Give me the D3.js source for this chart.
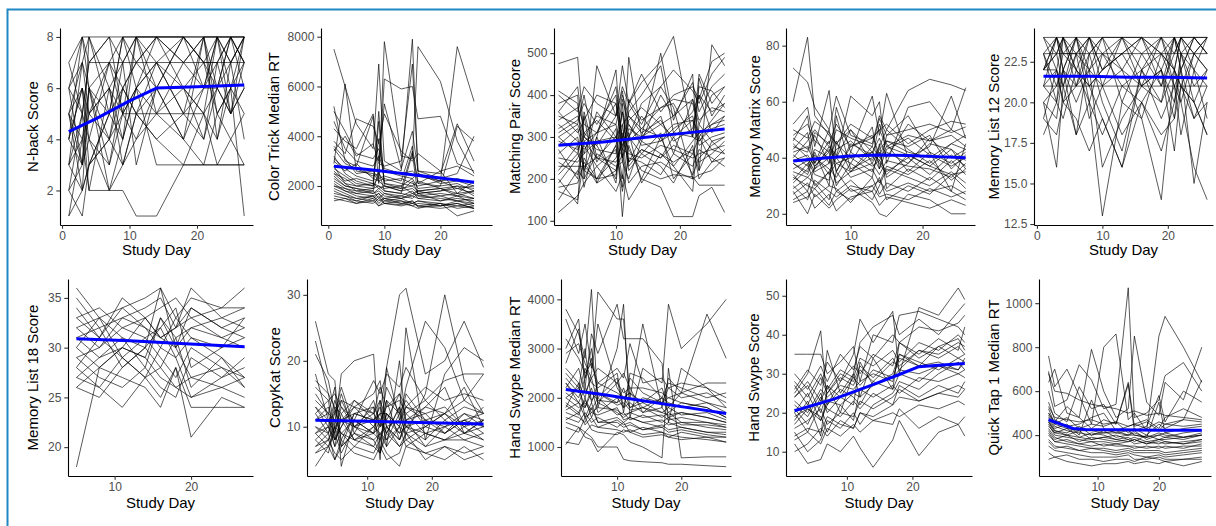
<!DOCTYPE html>
<html>
<head>
<meta charset="utf-8">
<script src="https://cdn.jsdelivr.net/npm/d3@7"></script>
<style>
  body { margin: 0; background: #fff; }
  svg { display: block; font-family: "Liberation Sans", Arial, sans-serif; }
</style>
</head>
<body>
<div class="svg-container"></div>
<script>
// ---- data: one row per participant, one value per study day ----
const nbackDays = [1, 3, 4, 7, 9, 11, 14, 18, 21, 23, 25, 27];
const nbackScores = [
  [4, 8, 8, 8, 8, 8, 8, 8, 8, 8, 8, 8], [7, 5, 7, 7, 7, 7, 7, 7, 7, 7, 7, 7],
  [3, 2, 3, 4, 5, 6, 3, 3, 3, 3, 3, 3], [2, 5, 2, 2, 2, 1, 1, 3, 3, 3, 3, 3],
  [5, 6, 4, 7, 5, 8, 6, 8, 7, 6, 8, 7], [6, 3, 8, 5, 8, 6, 7, 5, 8, 4, 7, 8],
  [1, 4, 6, 3, 6, 5, 7, 6, 5, 8, 6, 5], [3, 7, 5, 6, 4, 8, 5, 7, 6, 8, 5, 8],
  [5, 2, 6, 4, 7, 3, 6, 4, 8, 6, 7, 4], [4, 6, 3, 5, 6, 7, 8, 6, 4, 7, 8, 6],
  [6, 5, 7, 8, 5, 6, 8, 7, 8, 5, 6, 8], [2, 3, 4, 2, 3, 4, 5, 4, 3, 5, 4, 3],
  [5, 7, 6, 5, 8, 7, 6, 8, 7, 7, 8, 7], [3, 4, 5, 6, 5, 5, 5, 5, 6, 6, 5, 6],
  [7, 8, 6, 7, 8, 8, 7, 8, 6, 8, 7, 8], [4, 3, 5, 4, 6, 5, 4, 5, 5, 3, 4, 5],
  [2, 1, 3, 5, 4, 6, 5, 6, 7, 5, 6, 7], [6, 7, 8, 6, 7, 8, 8, 7, 8, 8, 7, 8],
  [5, 4, 2, 6, 3, 5, 6, 4, 6, 7, 5, 6], [3, 5, 4, 3, 5, 4, 6, 6, 5, 6, 8, 7],
  [4, 6, 5, 7, 6, 7, 8, 8, 7, 8, 8, 8], [1, 2, 3, 4, 3, 5, 4, 3, 5, 4, 6, 1],
  [6, 8, 7, 8, 7, 8, 8, 8, 8, 8, 8, 8], [5, 3, 6, 2, 4, 6, 7, 5, 4, 6, 5, 7]
];
const nbackTrend = [[1, 4.3], [5, 4.8], [10, 5.5], [14, 6.0], [20, 6.05], [27, 6.12]];

const colorTrickDays = [1, 3, 5, 8, 9, 10, 13, 15, 16, 20, 23, 26];
const colorTrickRT = [
  [7500, 6000, 4500, 3500, 6900, 3000, 2600, 7900, 2500, 2200, 7600, 5400],
  [5200, 3000, 2800, 4800, 2100, 7800, 3200, 3100, 7600, 6200, 3800, 2500],
  [3200, 2500, 2200, 2000, 2400, 6300, 5900, 6000, 4700, 4800, 2900, 2600],
  [2800, 2100, 1800, 1900, 5000, 2000, 1800, 2200, 1700, 1800, 2000, 1600],
  [2400, 2000, 1900, 1700, 1800, 1600, 1500, 1700, 1600, 1500, 1400, 1300],
  [3600, 3100, 2500, 2600, 2300, 2400, 2200, 3600, 2100, 2000, 4400, 3800],
  [2000, 1800, 1600, 1500, 1700, 1400, 1500, 1300, 1400, 1300, 1200, 1300],
  [4300, 3800, 3500, 4900, 3000, 5300, 2700, 4200, 2600, 2300, 2500, 4000],
  [1900, 1700, 1500, 1600, 1400, 1500, 1300, 1400, 1200, 1300, 1100, 1200],
  [2700, 2400, 2100, 2000, 4600, 2100, 1900, 2000, 1800, 1900, 1700, 1800],
  [3000, 2600, 2900, 2300, 2200, 2000, 1900, 3400, 2100, 2600, 1700, 2200],
  [2200, 1900, 1800, 1700, 1900, 1700, 1600, 1800, 1500, 1600, 1400, 1500],
  [1500, 1400, 1300, 1500, 1200, 1400, 1300, 1200, 1100, 1300, 800, 1000],
  [3400, 4000, 3200, 3700, 2900, 2800, 3000, 6900, 2600, 2500, 4500, 3000],
  [2500, 2300, 2000, 2100, 1900, 2000, 1800, 1900, 1700, 1800, 1900, 1700],
  [5000, 4200, 3300, 3100, 3500, 2700, 2500, 2600, 2400, 2200, 2300, 2100],
  [1700, 1600, 1500, 1400, 1600, 1300, 1400, 1200, 1300, 1200, 1300, 1100],
  [2900, 6100, 2600, 2500, 2200, 2300, 2100, 2000, 2200, 1900, 2000, 1900],
  [2300, 2000, 1900, 1800, 2600, 1800, 1700, 3300, 1600, 1700, 1600, 1500],
  [3800, 3300, 4700, 4400, 3700, 4900, 3400, 3000, 3300, 2600, 2800, 2400],
  [2100, 1800, 1700, 1600, 1700, 1500, 1600, 1500, 1700, 1400, 1500, 1400],
  [4600, 3500, 3000, 2800, 3200, 2600, 2400, 2300, 2500, 2100, 2200, 2000],
  [1800, 1600, 1400, 1300, 1500, 1300, 1200, 1300, 1200, 1100, 1200, 1100],
  [2600, 2200, 2300, 2100, 2000, 1900, 2000, 1700, 1800, 1900, 1600, 1800],
  [1400, 1500, 1300, 1400, 1200, 1300, 1250, 1400, 1150, 1200, 1300, 1100],
  [3100, 2700, 2400, 2200, 3900, 2100, 2000, 2300, 1900, 2000, 2100, 1800],
  [2500, 2100, 2000, 1900, 2000, 1800, 1700, 1600, 1800, 1600, 1700, 1500],
  [1600, 1500, 1400, 1600, 1300, 1500, 1400, 1300, 1400, 1200, 1400, 1200],
  [3500, 2900, 2700, 2400, 2500, 2200, 2300, 2100, 2000, 2200, 1900, 2000],
  [2000, 1900, 1700, 1800, 1500, 1700, 1500, 1600, 1500, 1400, 1600, 1300]
];
const colorTrickTrend = [[1, 2790], [8, 2640], [15, 2450], [20, 2320], [26, 2150]];

const matchingPairDays = [1, 4, 5, 7, 10, 11, 12, 14, 17, 19, 22, 23, 25, 27];
const matchingPairScores = [
  [475, 490, 300, 280, 350, 420, 380, 450, 360, 400, 420, 390, 480, 500],
  [410, 380, 220, 300, 460, 250, 490, 300, 500, 340, 450, 220, 520, 470],
  [350, 330, 400, 250, 300, 200, 380, 430, 480, 540, 300, 450, 380, 420],
  [300, 260, 350, 190, 280, 360, 240, 300, 350, 260, 390, 300, 340, 380],
  [240, 210, 310, 280, 200, 380, 230, 270, 250, 300, 210, 250, 280, 300],
  [200, 140, 360, 240, 320, 110, 280, 200, 300, 230, 170, 330, 290, 260],
  [170, 150, 250, 200, 280, 180, 300, 260, 230, 190, 280, 200, 240, 250],
  [120, 160, 190, 230, 170, 210, 150, 200, 180, 110, 110, 160, 180, 120],
  [380, 400, 200, 470, 350, 410, 300, 380, 420, 370, 200, 440, 350, 400],
  [330, 290, 270, 310, 330, 250, 300, 350, 290, 320, 350, 290, 330, 340],
  [260, 300, 220, 200, 250, 280, 310, 190, 260, 230, 290, 310, 270, 260],
  [310, 340, 380, 330, 400, 240, 360, 400, 470, 310, 360, 400, 360, 380],
  [230, 230, 230, 200, 210, 310, 270, 220, 200, 210, 205, 185, 185, 185],
  [400, 360, 420, 380, 350, 470, 380, 330, 420, 460, 410, 380, 450, 490],
  [280, 320, 260, 360, 300, 330, 350, 310, 340, 290, 320, 400, 310, 350],
  [190, 250, 280, 230, 270, 170, 250, 240, 210, 260, 230, 270, 250, 230],
  [360, 310, 340, 400, 380, 300, 340, 370, 330, 350, 390, 340, 370, 360],
  [150, 220, 200, 260, 230, 240, 200, 290, 260, 240, 270, 220, 290, 300],
  [290, 270, 300, 270, 260, 360, 290, 320, 300, 330, 340, 280, 300, 310],
  [220, 280, 180, 300, 190, 330, 220, 260, 310, 200, 260, 300, 240, 270],
  [340, 370, 330, 310, 420, 290, 390, 340, 370, 380, 300, 420, 410, 370],
  [270, 200, 290, 250, 240, 270, 260, 250, 280, 270, 250, 260, 270, 280],
  [180, 190, 240, 190, 220, 260, 190, 230, 240, 220, 200, 210, 220, 250],
  [320, 350, 310, 340, 290, 390, 330, 290, 400, 350, 430, 360, 420, 450],
  [250, 240, 260, 290, 300, 280, 330, 280, 290, 310, 300, 290, 320, 330],
  [360, 420, 300, 350, 330, 400, 350, 320, 370, 390, 380, 330, 400, 420],
  [210, 260, 230, 250, 220, 300, 240, 270, 250, 280, 260, 240, 260, 290],
  [300, 330, 290, 310, 380, 270, 320, 300, 330, 300, 340, 310, 330, 350]
];
const matchingPairTrend = [[1, 280], [8, 288], [14, 298], [20, 308], [27, 319]];

const memoryMatrixDays = [2, 4, 5, 7, 8, 10, 13, 14, 15, 18, 21, 24, 26];
const memoryMatrixScores = [
  [60, 83, 55, 48, 45, 50, 42, 47, 40, 52, 46, 48, 44],
  [72, 67, 58, 50, 62, 48, 45, 55, 50, 64, 68, 66, 64],
  [52, 58, 44, 64, 40, 62, 55, 60, 38, 58, 60, 50, 65],
  [45, 40, 35, 38, 58, 42, 62, 48, 63, 40, 44, 62, 47],
  [38, 35, 42, 30, 55, 36, 40, 52, 45, 35, 42, 38, 42],
  [30, 25, 32, 28, 26, 30, 28, 33, 25, 30, 27, 34, 29],
  [42, 44, 38, 46, 35, 44, 48, 41, 46, 42, 40, 45, 43],
  [35, 33, 36, 40, 31, 35, 38, 34, 39, 37, 36, 33, 38],
  [28, 20, 27, 22, 25, 29, 24, 20, 19, 27, 25, 20, 20],
  [48, 52, 46, 42, 50, 47, 44, 54, 48, 50, 52, 49, 51],
  [33, 30, 29, 35, 28, 32, 25, 30, 36, 33, 30, 35, 31],
  [40, 46, 50, 44, 41, 38, 51, 36, 43, 47, 41, 37, 40],
  [25, 28, 22, 27, 21, 26, 28, 23, 26, 24, 22, 25, 23],
  [36, 39, 34, 32, 45, 40, 35, 42, 33, 38, 45, 43, 36],
  [50, 47, 53, 49, 45, 52, 47, 50, 52, 45, 50, 53, 52],
  [31, 36, 41, 34, 38, 35, 42, 38, 34, 41, 37, 34, 35],
  [44, 42, 48, 38, 43, 46, 39, 44, 50, 43, 38, 45, 48],
  [27, 31, 26, 30, 29, 24, 33, 27, 31, 28, 33, 28, 25],
  [38, 34, 40, 36, 33, 42, 37, 39, 35, 40, 34, 41, 37],
  [46, 55, 38, 50, 35, 45, 41, 36, 48, 55, 42, 28, 45],
  [34, 28, 37, 42, 30, 38, 33, 45, 29, 36, 32, 39, 34],
  [41, 37, 43, 40, 46, 35, 44, 40, 42, 38, 47, 40, 43],
  [29, 33, 31, 25, 35, 28, 30, 32, 28, 31, 28, 30, 27],
  [43, 49, 36, 44, 40, 50, 38, 43, 46, 44, 48, 36, 41],
  [32, 38, 30, 35, 40, 33, 36, 31, 37, 34, 39, 32, 36],
  [47, 43, 49, 45, 52, 44, 47, 50, 44, 48, 46, 50, 47],
  [39, 41, 37, 43, 38, 40, 42, 39, 44, 41, 37, 43, 39],
  [24, 26, 29, 23, 28, 25, 30, 26, 27, 25, 29, 26, 28]
];
const memoryMatrixTrend = [[2, 38.8], [6, 39.8], [10, 40.6], [14, 41.0], [18, 40.8], [22, 40.4], [26, 40.0]];

const memoryList12Days = [1, 3, 4, 6, 8, 10, 13, 16, 19, 21, 22, 24, 26];
const memoryList12Scores = [
  [24, 24, 24, 24, 24, 24, 24, 24, 24, 24, 24, 24, 24],
  [23, 23, 23, 23, 23, 23, 23, 23, 23, 23, 23, 23, 23],
  [21, 21, 21, 21, 21, 21, 21, 21, 21, 21, 21, 21, 21],
  [22, 24, 22, 24, 23, 24, 22, 24, 23, 24, 22, 24, 23],
  [18, 20, 24, 22, 21, 19, 16, 22, 20, 24, 23, 21, 22],
  [20, 16, 21, 18, 20, 13, 20, 19, 14, 22, 20, 16, 14],
  [22, 23, 24, 21, 24, 22, 23, 24, 21, 23, 24, 22, 24],
  [19, 22, 20, 23, 19, 21, 18, 20, 22, 17, 21, 19, 20],
  [23, 21, 22, 20, 22, 16, 19, 21, 22, 19, 23, 20, 18],
  [21, 24, 23, 24, 22, 24, 24, 23, 24, 22, 24, 23, 24],
  [20, 19, 22, 18, 23, 20, 17, 22, 19, 21, 18, 22, 19],
  [22, 22, 21, 23, 22, 23, 21, 22, 23, 22, 21, 23, 22],
  [24, 22, 24, 23, 24, 21, 24, 22, 24, 23, 24, 24, 23],
  [21, 20, 19, 22, 20, 18, 21, 20, 17, 20, 22, 19, 21],
  [23, 24, 22, 21, 23, 24, 20, 23, 21, 24, 22, 15, 20],
  [20, 21, 23, 22, 21, 22, 23, 21, 22, 20, 23, 22, 21],
  [22, 23, 21, 24, 20, 23, 22, 19, 23, 21, 20, 23, 22],
  [24, 23, 24, 22, 24, 23, 24, 24, 22, 24, 23, 24, 24],
  [19, 18, 20, 19, 17, 19, 16, 20, 18, 19, 21, 20, 18],
  [22, 24, 23, 23, 24, 22, 23, 24, 23, 22, 24, 23, 24],
  [21, 22, 20, 21, 22, 21, 22, 21, 20, 22, 21, 20, 22],
  [23, 20, 22, 24, 21, 22, 24, 21, 24, 21, 22, 24, 23]
];
const memoryList12Trend = [[1, 21.6], [8, 21.6], [14, 21.55], [20, 21.55], [26, 21.5]];

const memoryList18Days = [5, 8, 11, 14, 16, 18, 20, 24, 27];
const memoryList18Scores = [
  [18, 28, 30, 29, 33, 31, 32, 33, 34], [36, 33, 34, 35, 36, 33, 35, 34, 36],
  [35, 32, 28, 30, 36, 30, 34, 32, 31], [33, 31, 34, 32, 30, 33, 31, 29, 27],
  [32, 33, 31, 30, 32, 34, 28, 30, 33], [31, 29, 30, 33, 31, 32, 36, 33, 32],
  [30, 28, 27, 26, 24, 28, 21, 25, 24], [29, 30, 32, 31, 29, 27, 30, 28, 26],
  [28, 31, 29, 27, 30, 29, 25, 27, 28], [27, 26, 24, 27, 25, 28, 24, 24, 24],
  [26, 28, 30, 29, 27, 26, 25, 26, 25], [33, 34, 32, 33, 34, 35, 33, 34, 34],
  [31, 32, 33, 32, 31, 30, 32, 31, 30], [27, 29, 31, 28, 33, 30, 27, 28, 27],
  [34, 31, 35, 33, 31, 32, 34, 32, 33], [29, 27, 26, 28, 26, 25, 29, 27, 29],
  [30, 33, 29, 31, 32, 29, 31, 30, 31], [26, 25, 28, 30, 28, 31, 26, 29, 26],
  [32, 30, 33, 34, 35, 32, 33, 31, 32], [28, 26, 29, 27, 28, 26, 27, 26, 27]
];
const memoryList18Trend = [[5, 30.9], [12, 30.7], [18, 30.45], [27, 30.1]];

const copyKatDays = [2, 4, 5, 6, 8, 11, 12, 13, 15, 16, 19, 22, 25, 28];
const copyKatScores = [
  [26, 18, 17, 7, 12, 11, 12, 19, 30, 31, 18, 20, 26, 19],
  [23, 15, 10, 18, 20, 21, 6, 14, 12, 25, 8, 18, 22, 20],
  [21, 17, 12, 16, 10, 13, 5, 19, 11, 16, 26, 22, 14, 18],
  [18, 11, 9, 14, 13, 15, 17, 10, 7, 9, 15, 30, 17, 12],
  [15, 12, 16, 4, 11, 9, 14, 7, 20, 10, 13, 16, 9, 11],
  [12, 14, 8, 10, 14, 11, 8, 12, 10, 15, 11, 9, 12, 10],
  [10, 8, 11, 9, 7, 10, 12, 9, 13, 8, 10, 12, 9, 11],
  [9, 11, 7, 12, 8, 9, 10, 11, 9, 12, 9, 10, 11, 9],
  [8, 6, 10, 7, 9, 8, 6, 10, 8, 11, 7, 8, 10, 8],
  [7, 9, 5, 8, 6, 5, 7, 5, 6, 9, 5, 7, 5, 6],
  [13, 10, 14, 11, 12, 13, 11, 13, 14, 12, 14, 11, 13, 12],
  [11, 13, 9, 13, 10, 12, 14, 11, 15, 11, 12, 13, 10, 13],
  [6, 8, 6, 5, 7, 6, 8, 6, 4, 7, 6, 5, 7, 5],
  [17, 15, 13, 12, 14, 12, 16, 13, 15, 13, 16, 14, 15, 14],
  [4, 7, 9, 6, 10, 8, 9, 8, 10, 7, 9, 8, 8, 7],
  [14, 12, 11, 15, 9, 14, 10, 16, 12, 14, 10, 12, 16, 10],
  [10, 9, 12, 11, 13, 10, 11, 9, 13, 10, 11, 10, 12, 11],
  [8, 10, 7, 9, 11, 9, 8, 12, 9, 10, 8, 11, 9, 10],
  [12, 9, 13, 8, 12, 11, 13, 10, 11, 13, 12, 9, 11, 12],
  [9, 7, 10, 11, 8, 10, 9, 7, 10, 9, 7, 10, 8, 9],
  [16, 14, 15, 13, 11, 17, 15, 18, 16, 19, 14, 17, 18, 18],
  [11, 12, 8, 10, 13, 12, 10, 14, 8, 11, 13, 12, 10, 11],
  [9, 10, 8, 11, 10, 9, 11, 8, 12, 9, 10, 9, 11, 10],
  [7, 8, 10, 9, 8, 7, 9, 10, 8, 10, 9, 8, 9, 8],
  [13, 11, 12, 14, 10, 11, 12, 12, 10, 13, 11, 12, 14, 12],
  [6, 7, 5, 7, 9, 7, 6, 9, 7, 8, 6, 7, 6, 7]
];
const copyKatTrend = [[2, 11.0], [10, 10.85], [18, 10.65], [28, 10.4]];

const swypeRTDays = [2, 4, 5, 6, 7, 10, 11, 12, 14, 17, 18, 20, 24, 27];
const swypeRT = [
  [3800, 3300, 2800, 4200, 1800, 3000, 3900, 1600, 2600, 2300, 3900, 3000, 3500, 4000],
  [3600, 2900, 3500, 2600, 4150, 3600, 3600, 2000, 3500, 1800, 2400, 2100, 3700, 2800],
  [3000, 3600, 2200, 3300, 2900, 3900, 3200, 3200, 3200, 2700, 1500, 2600, 2200, 1800],
  [2700, 3400, 2400, 3000, 2000, 2400, 1700, 2500, 2400, 2000, 2300, 2200, 2000, 2100],
  [2500, 2200, 3000, 1900, 2300, 2100, 2000, 2100, 1900, 2200, 1800, 2100, 2300, 2300],
  [2300, 2000, 2400, 2800, 2100, 1900, 2200, 1800, 2000, 1900, 2000, 1900, 1800, 1600],
  [2100, 1900, 1800, 2200, 1700, 2000, 1800, 1900, 1700, 1800, 1600, 1700, 1600, 1500],
  [1900, 1700, 2000, 1600, 1900, 1700, 1600, 1700, 1800, 1600, 1700, 1500, 1500, 1400],
  [1800, 2300, 1600, 1900, 1500, 1600, 1500, 1600, 1500, 1400, 1500, 1400, 1300, 1300],
  [1600, 1500, 1700, 1500, 1600, 1400, 1500, 1300, 1400, 1300, 1200, 1300, 1200, 1200],
  [1500, 1400, 1300, 1450, 1400, 1350, 1300, 1350, 1250, 1300, 1250, 1200, 1150, 1100],
  [1100, 1050, 1300, 1200, 1000, 1000, 750, 720, 700, 680, 650, 650, 620, 600],
  [1050, 1400, 1200, 1150, 900, 1300, 1250, 1100, 1000, 780, 2600, 780, 800, 800],
  [2000, 1800, 1900, 1700, 1800, 1750, 1650, 1700, 1600, 1650, 1550, 1600, 1500, 1450],
  [2200, 2600, 2100, 2400, 1900, 2300, 2100, 2200, 1700, 2000, 1900, 1800, 1900, 1700],
  [1700, 1600, 1500, 1800, 1500, 1500, 1400, 1450, 1350, 1400, 1300, 1350, 1250, 1200],
  [2400, 2100, 2600, 2300, 2200, 2500, 1800, 2400, 2100, 1900, 2200, 2000, 2100, 1900],
  [1400, 1300, 1600, 1350, 1300, 1250, 1350, 1300, 1200, 1250, 1200, 1150, 1200, 1100],
  [2600, 2300, 2000, 2500, 3500, 2200, 2000, 2100, 1800, 2000, 1700, 1900, 1800, 1600],
  [1750, 1900, 1600, 1700, 1650, 1800, 1550, 1600, 1500, 1550, 1450, 1500, 1400, 1350],
  [3200, 2800, 2500, 2700, 2300, 2600, 2400, 3100, 2300, 2400, 2200, 2300, 2200, 2000],
  [2000, 2200, 1800, 2100, 1950, 1900, 2000, 1800, 1900, 1700, 1800, 1650, 1700, 1550],
  [1850, 1650, 1950, 1750, 2000, 1650, 1700, 1550, 1650, 1500, 1600, 1450, 1450, 1400],
  [2900, 3100, 2700, 2400, 2600, 2300, 2500, 2200, 2200, 2100, 2000, 2100, 1900, 1800],
  [1550, 1700, 1450, 1600, 1400, 1550, 1450, 1500, 1350, 1450, 1350, 1400, 1300, 1250],
  [2300, 1900, 2200, 1950, 2100, 1850, 1900, 1750, 1800, 1700, 1650, 1700, 1600, 1500]
];
const swypeRTTrend = [[2, 2170], [8, 2060], [14, 1940], [20, 1820], [27, 1680]];

const swypeScoreDays = [2, 4, 6, 7, 9, 11, 12, 14, 17, 18, 21, 24, 27, 28];
const swypeScores = [
  [25, 30, 41, 22, 28, 35, 44, 38, 46, 30, 47, 45, 52, 49],
  [20, 15, 22, 36, 25, 30, 38, 42, 45, 40, 44, 40, 46, 48],
  [35, 35, 35, 30, 33, 37, 28, 40, 38, 45, 46, 44, 42, 40],
  [18, 23, 14, 27, 20, 30, 24, 34, 26, 38, 35, 39, 36, 42],
  [22, 19, 25, 20, 24, 22, 33, 27, 30, 35, 32, 37, 34, 35],
  [15, 10, 13, 18, 16, 20, 17, 22, 25, 28, 26, 30, 33, 31],
  [28, 24, 30, 26, 31, 29, 34, 32, 36, 33, 38, 36, 40, 38],
  [12, 7, 8, 12, 10, 14, 11, 6, 13, 18, 9, 15, 17, 14],
  [19, 21, 18, 23, 22, 25, 24, 27, 29, 31, 30, 32, 31, 33],
  [24, 27, 20, 25, 29, 27, 31, 28, 33, 32, 36, 34, 37, 35],
  [16, 18, 21, 17, 20, 19, 23, 21, 24, 26, 23, 25, 27, 26],
  [21, 17, 24, 21, 19, 23, 21, 25, 22, 27, 24, 27, 25, 28],
  [26, 31, 27, 33, 28, 32, 30, 35, 32, 38, 34, 37, 39, 36],
  [14, 16, 15, 19, 17, 16, 20, 18, 17, 21, 16, 19, 17, 19],
  [23, 20, 26, 24, 27, 26, 28, 30, 28, 35, 33, 31, 34, 33],
  [17, 21, 19, 15, 22, 18, 26, 24, 27, 25, 29, 28, 30, 31],
  [30, 26, 32, 28, 35, 31, 37, 34, 40, 38, 42, 41, 43, 45],
  [20, 25, 18, 22, 26, 24, 22, 28, 26, 30, 28, 32, 30, 29],
  [13, 15, 12, 16, 14, 17, 15, 18, 20, 19, 22, 21, 23, 22],
  [27, 22, 29, 25, 30, 28, 32, 29, 34, 31, 36, 35, 38, 37],
  [10, 12, 16, 14, 18, 16, 20, 19, 22, 24, 23, 25, 24, 26],
  [24, 28, 23, 27, 24, 29, 27, 31, 29, 34, 32, 33, 31, 34]
];
const swypeScoreTrend = [[2, 20.5], [8, 23.5], [14, 27.2], [18, 29.8], [21, 31.8], [24, 32.2], [28, 32.6]];

const quickTapDays = [2, 3, 5, 7, 9, 11, 13, 15, 16, 18, 20, 21, 24, 27];
const quickTapRT = [
  [760, 620, 700, 580, 450, 800, 860, 470, 500, 420, 850, 940, 800, 640],
  [690, 530, 560, 720, 650, 520, 540, 1070, 480, 500, 560, 670, 730, 600],
  [640, 700, 500, 480, 790, 600, 480, 520, 850, 550, 490, 640, 560, 800],
  [600, 500, 460, 620, 520, 540, 450, 630, 420, 440, 580, 460, 600, 550],
  [550, 470, 440, 450, 480, 500, 420, 440, 450, 470, 430, 480, 520, 480],
  [520, 450, 480, 430, 450, 440, 460, 410, 430, 400, 450, 430, 470, 460],
  [490, 440, 420, 410, 400, 420, 390, 400, 420, 380, 400, 390, 410, 420],
  [470, 420, 400, 420, 380, 390, 400, 380, 390, 370, 380, 380, 390, 400],
  [450, 400, 390, 380, 370, 370, 360, 370, 380, 360, 370, 360, 370, 380],
  [430, 390, 370, 360, 350, 360, 350, 350, 340, 350, 340, 350, 340, 360],
  [410, 370, 360, 350, 340, 340, 330, 340, 330, 330, 330, 320, 330, 340],
  [380, 350, 340, 330, 320, 320, 310, 320, 310, 300, 310, 300, 310, 320],
  [350, 330, 320, 310, 300, 300, 300, 310, 290, 290, 300, 290, 290, 300],
  [290, 300, 280, 270, 260, 270, 270, 280, 270, 280, 270, 280, 260, 280],
  [320, 300, 310, 290, 290, 280, 290, 290, 280, 300, 290, 280, 290, 290],
  [500, 460, 530, 480, 430, 470, 450, 640, 440, 460, 420, 450, 470, 650],
  [480, 430, 450, 400, 560, 430, 410, 420, 400, 390, 550, 410, 430, 440],
  [440, 410, 430, 390, 410, 400, 380, 390, 370, 400, 380, 390, 380, 400],
  [420, 380, 400, 370, 390, 380, 370, 380, 360, 370, 360, 370, 360, 370],
  [460, 420, 410, 440, 400, 410, 420, 400, 410, 390, 400, 410, 390, 410],
  [530, 480, 470, 460, 470, 450, 460, 440, 450, 430, 460, 450, 440, 450],
  [680, 600, 590, 560, 540, 530, 520, 500, 510, 490, 500, 490, 480, 470],
  [400, 370, 380, 360, 370, 350, 360, 350, 350, 340, 350, 340, 350, 350],
  [460, 410, 400, 390, 380, 390, 380, 370, 380, 360, 380, 370, 360, 380],
  [370, 340, 350, 330, 340, 330, 320, 330, 320, 320, 320, 310, 320, 330],
  [500, 450, 430, 420, 420, 410, 410, 400, 400, 390, 410, 400, 390, 400]
];
const quickTapTrend = [[2, 470], [4, 450], [6, 430], [8, 425], [14, 424], [20, 422], [27, 422]];

const xTickValues = [0, 10, 20];

// panel definitions (content)
const panels = [
  { label: 'N-back Score', days: nbackDays, values: nbackScores, trend: nbackTrend, xDomain: [-0.3, 28.3], yDomain: [0.65, 8.35], yTicks: [2, 4, 6, 8], fmt: 'd' },
  { label: 'Color Trick Median RT', days: colorTrickDays, values: colorTrickRT, trend: colorTrickTrend, xDomain: [-1.3, 29.2], yDomain: [432, 8350], yTicks: [2000, 4000, 6000, 8000], fmt: 'd' },
  { label: 'Matching Pair Score', days: matchingPairDays, values: matchingPairScores, trend: matchingPairTrend, xDomain: [0.3, 28], yDomain: [90, 560], yTicks: [100, 200, 300, 400, 500], fmt: 'd' },
  { label: 'Memory Matrix Score', days: memoryMatrixDays, values: memoryMatrixScores, trend: memoryMatrixTrend, xDomain: [1.0, 27.3], yDomain: [16, 86.3], yTicks: [20, 40, 60, 80], fmt: 'd' },
  { label: 'Memory List 12 Score', days: memoryList12Days, values: memoryList12Scores, trend: memoryList12Trend, xDomain: [-0.45, 26.9], yDomain: [12.44, 24.58], yTicks: [12.5, 15, 17.5, 20, 22.5], fmt: '.1f' },
  { label: 'Memory List 18 Score', days: memoryList18Days, values: memoryList18Scores, trend: memoryList18Trend, xDomain: [3.9, 28.1], yDomain: [17.1, 36.9], yTicks: [20, 25, 30, 35], fmt: 'd' },
  { label: 'CopyKat Score', days: copyKatDays, values: copyKatScores, trend: copyKatTrend, xDomain: [0.7, 29.3], yDomain: [2.53, 32.4], yTicks: [10, 20, 30], fmt: 'd' },
  { label: 'Hand Swype Median RT', days: swypeRTDays, values: swypeRT, trend: swypeRTTrend, xDomain: [1.25, 27.75], yDomain: [411, 4413], yTicks: [1000, 2000, 3000, 4000], fmt: 'd' },
  { label: 'Hand Swype Score', days: swypeScoreDays, values: swypeScores, trend: swypeScoreTrend, xDomain: [0.7, 29.1], yDomain: [3.77, 54.3], yTicks: [10, 20, 30, 40, 50], fmt: 'd' },
  { label: 'Quick Tap 1 Median RT', days: quickTapDays, values: quickTapRT, trend: quickTapTrend, xDomain: [0.44, 28.5], yDomain: [214, 1110], yTicks: [400, 600, 800, 1000], fmt: 'd' }
];

// pixel layout of each panel
const panelLayout = [
  { left: 60, right: 253, titleX: 33 },
  { left: 321, right: 492, titleX: 274 },
  { left: 554, right: 731, titleX: 515 },
  { left: 786, right: 975, titleX: 755 },
  { left: 1034, right: 1213, titleX: 994 },
  { left: 68, right: 253, titleX: 33 },
  { left: 307, right: 492, titleX: 275 },
  { left: 561, right: 731, titleX: 515 },
  { left: 786, right: 972, titleX: 754 },
  { left: 1039, right: 1211, titleX: 994 }
];
const rows = [
  { top: 28, bottom: 225, titleY: 255 },
  { top: 279, bottom: 476, titleY: 508 }
];

const width = 1216;
const height = 526;

const svg = d3.select('.svg-container')
  .append('svg')
  .attr('width', width)
  .attr('height', height);

svg.append('rect').attr('width', width).attr('height', height).attr('fill', '#fff');

// frame round the figure (only top and left edges visible)
svg.append('path')
  .attr('d', `M7.5,${height} V9.5 H${width}`)
  .attr('fill', 'none')
  .attr('stroke', '#1f87c4')
  .attr('stroke-width', 2);

panels.forEach((p, i) => {
  const pos = panelLayout[i];
  const row = rows[Math.floor(i / 5)];
  const x = d3.scaleLinear().domain(p.xDomain).range([pos.left, pos.right]);
  const y = d3.scaleLinear().domain(p.yDomain).range([row.bottom, row.top]);
  const line = d3.line().x((d) => x(d[0])).y((d) => y(d[1]));
  const g = svg.append('g').attr('class', 'panel');

  // participant trajectories
  g.selectAll('.subject')
    .data(p.values)
    .enter()
    .append('path')
    .attr('class', 'subject')
    .attr('d', (vals) => line(vals.map((v, k) => [p.days[k], v])))
    .attr('fill', 'none')
    .attr('stroke', '#000')
    .attr('stroke-width', 0.65)
    .attr('stroke-linejoin', 'round');

  // group trend
  g.append('path')
    .datum(p.trend)
    .attr('d', line)
    .attr('fill', 'none')
    .attr('stroke', '#0000ff')
    .attr('stroke-width', 3)
    .attr('stroke-linejoin', 'round');

  // x axis
  const xAxis = g.append('g')
    .attr('transform', `translate(0,${row.bottom})`)
    .call(d3.axisBottom(x)
      .tickValues(xTickValues.filter((t) => t >= p.xDomain[0] && t <= p.xDomain[1]))
      .tickSize(3.7).tickPadding(2.5).tickSizeOuter(0).tickFormat(d3.format('d')));

  // y axis
  const yAxis = g.append('g')
    .attr('transform', `translate(${pos.left},0)`)
    .call(d3.axisLeft(y)
      .tickValues(p.yTicks)
      .tickSize(3.7).tickPadding(3).tickSizeOuter(0).tickFormat(d3.format(p.fmt)));

  [xAxis, yAxis].forEach((a) => {
    a.attr('font-family', null).attr('font-size', null);
    a.select('.domain').attr('stroke', '#000').attr('stroke-width', 1.1);
    a.selectAll('.tick line').attr('stroke', '#333').attr('stroke-width', 1.1);
    a.selectAll('.tick text').attr('fill', '#4d4d4d').style('font-size', '12px');
  });

  // axis titles
  g.append('text')
    .attr('x', (pos.left + pos.right) / 2)
    .attr('y', row.titleY)
    .attr('text-anchor', 'middle')
    .style('font-size', '15px')
    .attr('fill', '#000')
    .text('Study Day');

  g.append('text')
    .attr('transform', `translate(${pos.titleX},${(row.top + row.bottom) / 2}) rotate(-90)`)
    .attr('text-anchor', 'middle')
    .attr('dy', '0.35em')
    .style('font-size', '15px')
    .attr('fill', '#000')
    .text(p.label);
});
</script>
</body>
</html>
